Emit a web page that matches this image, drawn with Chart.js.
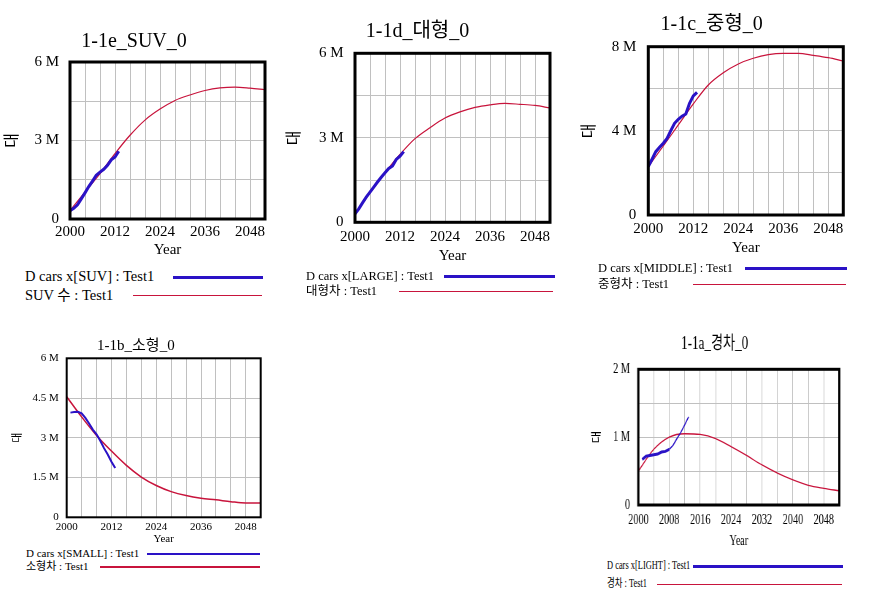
<!DOCTYPE html>
<html>
<head>
<meta charset="utf-8">
<script src="https://cdn.jsdelivr.net/npm/chart.js@4.4.1/dist/chart.umd.min.js"></script>
<style>
  html, body { margin: 0; padding: 0; background: #fff; }
  #page { position: relative; width: 878px; height: 602px; overflow: hidden; }
  canvas { position: absolute; transform-origin: 0 0; }
  .lg { position: absolute; white-space: nowrap; color: #000; transform-origin: 0 50%;
        font-family: 'Liberation Serif', 'Noto Sans CJK KR', serif; }
  .ln { position: absolute; }
</style>
</head>
<body>
<div id="page"></div>
<script>
// years of the observed series and of the simulation output
const obsYears = [2000, 2001, 2002, 2003, 2004, 2005, 2006, 2007, 2008, 2009, 2010, 2011, 2012, 2013];
const obsYearsLate = [2001, 2002, 2003, 2004, 2005, 2006, 2007, 2008, 2009, 2010, 2011, 2012, 2013];
const simYears = [2000, 2004, 2008, 2012, 2016, 2020, 2024, 2028, 2032, 2036, 2040, 2044, 2048, 2052];

// values in millions of cars
const suvObs = [0.32, 0.41, 0.54, 0.77, 1.0, 1.24, 1.45, 1.67, 1.79, 1.90, 2.05, 2.26, 2.37, 2.59];
const suvSim = [0.32, 1.03, 1.73, 2.5, 3.2, 3.78, 4.2, 4.53, 4.74, 4.91, 5.01, 5.04, 5.0, 4.94];

const largeObs = [0.30, 0.48, 0.69, 0.89, 1.07, 1.25, 1.43, 1.60, 1.76, 1.91, 2.0, 2.23, 2.35, 2.51];
const largeSim = [0.30, 1.05, 1.76, 2.41, 2.97, 3.36, 3.70, 3.92, 4.08, 4.17, 4.22, 4.19, 4.15, 4.06];

const middleObs = [2.30, 2.65, 3.01, 3.22, 3.41, 3.64, 4.01, 4.36, 4.55, 4.70, 4.80, 5.31, 5.66, 5.83];
const middleSim = [2.30, 3.28, 4.28, 5.28, 6.18, 6.76, 7.18, 7.45, 7.62, 7.68, 7.68, 7.59, 7.48, 7.32];

const smallObs = [3.95, 3.97, 3.98, 3.92, 3.75, 3.54, 3.31, 3.13, 2.89, 2.61, 2.37, 2.10, 1.86];
const smallSim = [4.55, 3.79, 3.09, 2.50, 1.96, 1.52, 1.20, 0.97, 0.82, 0.72, 0.66, 0.59, 0.54, 0.54];

const lightObs = [0.67, 0.72, 0.73, 0.74, 0.75, 0.78, 0.79, 0.82, 0.88, 0.98, 1.07, 1.18, 1.30];
const lightSim = [0.50, 0.82, 1.0, 1.05, 1.04, 0.98, 0.86, 0.73, 0.59, 0.47, 0.37, 0.29, 0.245, 0.21];

const FONT = "'Liberation Serif', 'Noto Sans CJK KR', serif";
const BLUE = '#2a12c6';
const RED = '#c8143c';
const GRID = '#c0c0c0';

// thick black box round the plot area
const frame = {
  id: 'frame',
  afterDraw(chart, args, opts) {
    const { ctx, chartArea: a } = chart;
    ctx.save();
    ctx.strokeStyle = '#000';
    ctx.lineWidth = opts.width;
    ctx.strokeRect(a.left, a.top, a.right - a.left, a.bottom - a.top);
    ctx.restore();
  }
};

function toPts(xs, ys) {
  return xs.map((x, i) => ({ x: x, y: ys[i] }));
}

const panels = [
  { title: '1-1e_SUV_0', labels: ['D cars x[SUV] : Test1', 'SUV 수 : Test1'],
    obsX: obsYears, obs: suvObs, sim: suvSim, yMax: 6, yStep: 1.5, yEvery: 3, xEvery: 12,
    lay: { titleSize: 20, titleX: 149, titleY: 41.7, box: [70, 62, 265, 219], yTitleX: 13, yTitleSize: 16,
           yearY: 250, yearSize: 15, tickSize: 15, yTickPad: 11, xTickPad: 3.7, frame: 3, obsW: 3, simW: 1.2,
           legendSize: 14.5, rows: [[25, 277, 173, 263], [25, 295.5, 133, 262]] } },
  { title: '1-1d_대형_0', labels: ['D cars x[LARGE] : Test1', '대형차 : Test1'],
    obsX: obsYears, obs: largeObs, sim: largeSim, yMax: 6, yStep: 1.5, yEvery: 3, xEvery: 12,
    lay: { titleSize: 20, titleX: 435, titleY: 31.7, box: [355, 53.3, 550, 222.3], yTitleX: 295, yTitleSize: 16,
           yearY: 255.7, yearSize: 15, tickSize: 15, yTickPad: 11.5, xTickPad: 5.4, frame: 3, obsW: 3, simW: 1.2,
           legendSize: 12.5, rows: [[306, 276.5, 444, 555], [306, 291.5, 399, 553]] } },
  { title: '1-1c_중형_0', labels: ['D cars x[MIDDLE] : Test1', '중형차 : Test1'],
    obsX: obsYears, obs: middleObs, sim: middleSim, yMax: 8, yStep: 2, yEvery: 4, xEvery: 12,
    lay: { titleSize: 20, titleX: 728, titleY: 25, box: [648.3, 46.7, 843.3, 215], yTitleX: 590, yTitleSize: 16,
           yearY: 248.3, yearSize: 15, tickSize: 15, yTickPad: 12, xTickPad: 5.3, frame: 3, obsW: 3, simW: 1.2,
           legendSize: 12.5, rows: [[598, 268, 745, 847], [598, 284, 693, 846]] } },
  { title: '1-1b_소형_0', labels: ['D cars x[SMALL] : Test1', '소형차 : Test1'],
    obsX: obsYearsLate, obs: smallObs, sim: smallSim, yMax: 6, yStep: 1.5, yEvery: 1.5, xEvery: 12,
    lay: { titleSize: 15, titleX: 147, titleY: 346, box: [66.7, 358.3, 260.7, 517.3], yTitleX: 18, yTitleSize: 11,
           yearY: 539, yearSize: 11, tickSize: 11, yTickPad: 8, xTickPad: 2.8, frame: 2, obsW: 2, simW: 1.5,
           legendSize: 11, rows: [[26, 554, 147, 260], [26, 567, 100, 260]] } },
  { title: '1-1a_경차_0', labels: ['D cars x[LIGHT] : Test1', '경차 : Test1'],
    obsX: obsYearsLate, obs: lightObs, sim: lightSim, yMax: 2, yStep: 0.5, yEvery: 1, xEvery: 8, thinFrom: 2008,
    lay: { sx: 0.73, titleSize: 18, titleX: 727, titleY: 344, box: [638.3, 369.3, 839.3, 505], yTitleX: 597, yTitleSize: 14,
           yearY: 541.7, yearSize: 14, tickSize: 14, yTickPad: 8.3, xTickPad: 7.3, frame: 3, obsW: 3, simW: 1.3,
           legendSize: 11.5, rows: [[607, 566, 693, 843], [607, 584, 657, 842]] } }
];

const page = document.getElementById('page');

panels.forEach(p => {
  const L = p.lay;
  const sx = L.sx || 1;
  const [bl, bt, br, bb] = L.box;
  const cl = Math.floor(L.yTitleX - 0.6 * L.yTitleSize * sx);
  const cr = Math.ceil(2 * L.titleX - cl);
  const ct = Math.floor(L.titleY - 0.6 * L.titleSize);
  const cb = Math.ceil(L.yearY + 0.6 * L.yearSize);
  const w = Math.round((cr - cl) / sx);
  const h = cb - ct;

  const titlePadTop = L.titleY - 0.6 * L.titleSize - ct;
  const titlePadBottom = bt - ct - 1.2 * L.titleSize - titlePadTop;
  const yWidth = (bl - cl) / sx;
  const padRight = w - (br - cl) / sx;
  const xHeight = cb - bb;

  const canvas = document.createElement('canvas');
  canvas.width = w;
  canvas.height = h;
  canvas.style.left = cl + 'px';
  canvas.style.top = ct + 'px';
  if (sx !== 1) canvas.style.transform = 'scaleX(' + sx + ')';
  page.appendChild(canvas);

  const obsSet = {
    label: p.labels[0],
    data: toPts(p.obsX, p.obs),
    borderColor: BLUE,
    borderWidth: L.obsW,
    pointRadius: 0,
    order: 0
  };
  if (p.thinFrom) {
    obsSet.segment = { borderWidth: ctx => ctx.p0.parsed.x >= p.thinFrom ? 1.5 : L.obsW };
  }

  const chart = new Chart(canvas, {
    type: 'line',
    data: {
      datasets: [
        obsSet,
        {
          label: p.labels[1],
          data: toPts(simYears, p.sim),
          borderColor: RED,
          borderWidth: L.simW,
          pointRadius: 0,
          cubicInterpolationMode: 'monotone',
          order: 1
        }
      ]
    },
    options: {
      responsive: false,
      animation: false,
      devicePixelRatio: 1,
      events: [],
      layout: { padding: { left: 0, right: padRight, top: 0, bottom: 0 } },
      plugins: {
        legend: { display: false },
        tooltip: { enabled: false },
        title: {
          display: true,
          text: p.title,
          color: '#000',
          font: { family: FONT, size: L.titleSize, weight: 'normal' },
          padding: { top: titlePadTop, bottom: titlePadBottom }
        },
        frame: { width: L.frame }
      },
      scales: {
        x: {
          type: 'linear',
          min: 2000,
          max: 2052,
          border: { display: false },
          grid: { color: GRID, lineWidth: 1, drawTicks: false },
          ticks: {
            stepSize: 4,
            autoSkip: false,
            maxRotation: 0,
            padding: L.xTickPad,
            color: '#000',
            font: { family: FONT, size: L.tickSize },
            callback: v => ((v - 2000) % p.xEvery === 0 ? String(v) : '')
          },
          title: {
            display: true,
            text: 'Year',
            color: '#000',
            font: { family: FONT, size: L.yearSize },
            padding: { top: 0, bottom: cb - L.yearY - 0.6 * L.yearSize }
          },
          afterFit: s => { s.height = xHeight; }
        },
        y: {
          min: 0,
          max: p.yMax,
          border: { display: false },
          grid: { color: GRID, lineWidth: 1, drawTicks: false },
          ticks: {
            stepSize: p.yStep,
            autoSkip: false,
            padding: L.yTickPad / sx,
            color: '#000',
            font: { family: FONT, size: L.tickSize },
            callback: v => (v % p.yEvery === 0 ? (v === 0 ? '0' : v + ' M') : '')
          },
          title: {
            display: true,
            text: '대',
            color: '#000',
            font: { family: FONT, size: L.yTitleSize },
            padding: { top: (L.yTitleX - cl) / sx - 0.6 * L.yTitleSize, bottom: 0 }
          },
          afterFit: s => { s.width = yWidth; }
        }
      }
    },
    plugins: [frame]
  });

  // Vensim style legend: name first, then a sample of the line
  chart.data.datasets.forEach((ds, i) => {
    const [tx, ty, x1, x2] = L.rows[i];
    const t = document.createElement('div');
    t.className = 'lg';
    t.textContent = ds.label;
    t.style.left = tx + 'px';
    t.style.top = (ty - 0.6 * L.legendSize) + 'px';
    t.style.fontSize = L.legendSize + 'px';
    t.style.lineHeight = (1.2 * L.legendSize) + 'px';
    if (sx !== 1) t.style.transform = 'scaleX(' + sx + ')';
    page.appendChild(t);

    const lh = Math.max(1, Math.round(ds.borderWidth));
    const ln = document.createElement('div');
    ln.className = 'ln';
    ln.style.left = x1 + 'px';
    ln.style.width = (x2 - x1) + 'px';
    ln.style.top = Math.round(ty - lh / 2) + 'px';
    ln.style.height = lh + 'px';
    ln.style.background = ds.borderColor;
    page.appendChild(ln);
  });
});
</script>
</body>
</html>
